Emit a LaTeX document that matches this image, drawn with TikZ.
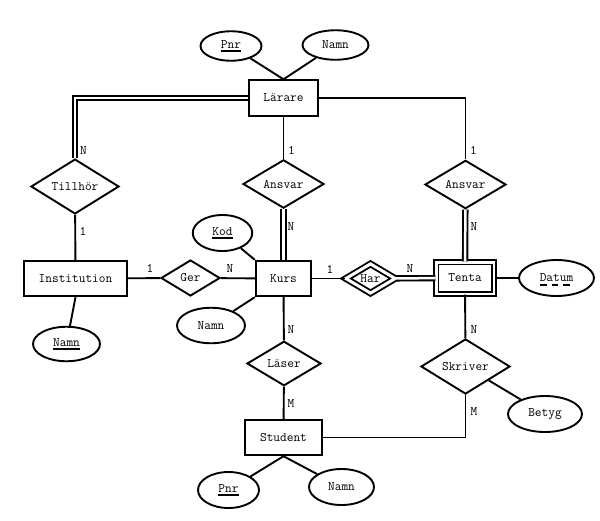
\documentclass[tikz,border=0pt]{standalone}
\usepackage{fontspec}
\usetikzlibrary{shapes.geometric}
\newcommand{\keyattr}[1]{\setbox0=\hbox{#1}\rlap{\rule[-3.5pt]{\wd0}{1.8pt}}\box0}
\tikzset{
  entity/.style={draw, rectangle, inner sep=0pt, minimum height=35.5pt},
  weakentity/.style={entity, double, double distance=2.5pt},
  relation/.style={draw, diamond, inner sep=0pt},
  attr/.style={draw, ellipse, inner sep=0pt},
  card/.style={inner sep=0pt},
}

\begin{document}
\begin{tikzpicture}[x=1pt, y=-1pt, line width=1.9pt,
    font=\fontsize{13}{15}\selectfont\ttfamily]
    \useasboundingbox (0,0) rectangle (600,520);
    % entities
    \node[entity, minimum width=69.5pt] (larare) at (283.5,98) {Lärare};
    \node[entity, minimum width=103.5pt] (inst) at (75.5,278.5) {Institution};
    \node[entity, minimum width=55.5pt] (kurs) at (283.5,278.5) {Kurs};
    \node[weakentity, minimum width=57.5pt, minimum height=31.5pt] (tenta) at (465,278) {Tenta};
    \node[entity, minimum width=77.5pt] (student) at (283.5,437.5) {Student};
    % relations
    \node[relation, minimum width=88pt, minimum height=51pt] (tillhor) at (75,186.5) {Tillhör};
    \node[relation, minimum width=81pt, minimum height=46.5pt] (ansvarK) at (283.5,184) {Ansvar};
    \node[relation, minimum width=81pt, minimum height=47pt] (ansvarT) at (465.5,184.5) {Ansvar};
    \node[relation, minimum width=59pt, minimum height=36pt] (ger) at (190.5,278) {Ger};
    \node[relation, double, double distance=3pt, minimum width=50pt, minimum height=30pt] (har) at (370.5,278.5) {Har};
    \node[relation, minimum width=74pt, minimum height=44.5pt] (laser) at (284,363.5) {Läser};
    \node[relation, minimum width=89pt, minimum height=51pt] (skriver) at (465.5,366.5) {Skriver};
    % attributes
    \node[attr, minimum width=61pt, minimum height=29.5pt] (pnrL) at (231,46) {\keyattr{Pnr}};
    \node[attr, minimum width=66pt, minimum height=29.5pt] (namnL) at (335.5,45) {Namn};
    \node[attr, minimum width=59.5pt, minimum height=36pt] (kod) at (222.5,233) {\keyattr{Kod}};
    \node[attr, minimum width=68pt, minimum height=35.5pt] (namnK) at (211,325.5) {Namn};
    \node[attr, minimum width=67pt, minimum height=34.5pt] (namnI) at (66.5,344) {\keyattr{Namn}};
    \node[attr, minimum width=75pt, minimum height=36pt] (datum) at (556.5,278) {Datum};
    \node[attr, minimum width=74pt, minimum height=36pt] (betyg) at (545,414) {Betyg};
    \node[attr, minimum width=61pt, minimum height=36pt] (pnrS) at (228.5,490) {\keyattr{Pnr}};
    \node[attr, minimum width=65pt, minimum height=36pt] (namnS) at (341.5,487) {Namn};
    % partial key of Tenta
    \draw[line width=1.8pt, dash pattern=on 6.5pt off 5pt]
      ([xshift=-16.5pt,yshift=-7pt]datum.center) -- ([xshift=13.5pt,yshift=-7pt]datum.center);
    % connectors
    \path (pnrL) edge (larare.north);
    \path (namnL) edge (larare.north);
    \draw[double, double distance=2.5pt] (larare.west) -| (tillhor.north);
    \path (larare) edge (ansvarK);
    \draw (larare.east) -| (ansvarT.north);
    \path (tillhor) edge (inst);
    \path (ansvarK) edge[double, double distance=2.5pt] (kurs);
    \path (ansvarT) edge[double, double distance=2.5pt] (tenta);
    \path (inst) edge (ger);
    \path (ger) edge (kurs);
    \path (kod) edge (kurs.north west);
    \path (namnK) edge (kurs.south west);
    \path (namnI) edge (inst.south);
    \path (kurs) edge (har);
    \path (har) edge[double, double distance=2.5pt] (tenta);
    \path (tenta) edge (datum);
    \path (tenta) edge (skriver);
    \path (skriver) edge (betyg);
    \path (kurs) edge (laser);
    \path (laser) edge (student);
    \draw (student.east) -| (skriver.south);
    \path (student.south) edge (pnrS);
    \path (student.south) edge (namnS);
    % cardinalities
    \node[card] (cTillN) at (83.5,150.5) {N};
    \node[card] (cAnsK1) at (291.5,150.5) {1};
    \node[card] (cAnsT1) at (473.5,150.5) {1};
    \node[card] (cAnsKN) at (291,227) {N};
    \node[card] (cAnsTN) at (474,227) {N};
    \node[card] (cTill1) at (83,231) {1};
    \node[card] (cGer1) at (150,268.5) {1};
    \node[card] (cGerN) at (230,268.5) {N};
    \node[card] (cHar1) at (330,269) {1};
    \node[card] (cHarN) at (410,269) {N};
    \node[card] (cLasN) at (291,330) {N};
    \node[card] (cSkrN) at (474,330) {N};
    \node[card] (cLasM) at (291,403.5) {M};
    \node[card] (cSkrM) at (474,412) {M};
\end{tikzpicture}
\end{document}
